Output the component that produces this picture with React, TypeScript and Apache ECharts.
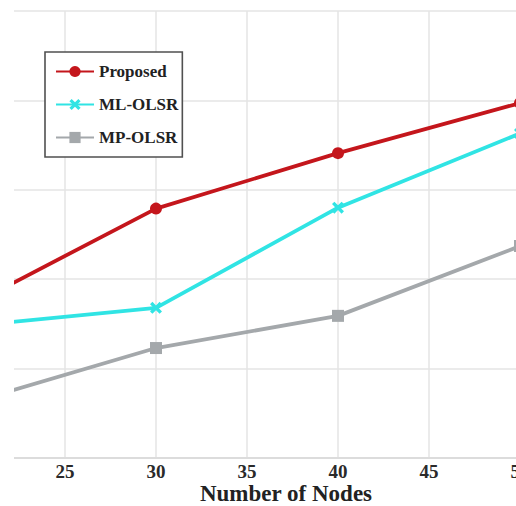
import React, { useEffect, useRef } from "react";
import * as echarts from "echarts";

const nodes = [20, 30, 40, 50];
const proposed = [1.73, 2.79, 3.41, 3.97];
const mlOlsr = [1.48, 1.68, 2.8, 3.63];
const mpOlsr = [0.63, 1.23, 1.59, 2.37];
const seriesNames = ["Proposed", "ML-OLSR", "MP-OLSR"];
const xTitle = "Number of Nodes";

const serif = "'Liberation Serif', 'Times New Roman', serif";
const xShape =
  "path://M0,2 L2,0 L5,3 L8,0 L10,2 L7,5 L10,8 L8,10 L5,7 L2,10 L0,8 L3,5 Z";

export default function App() {
  const ref = useRef<HTMLDivElement>(null);
  useEffect(() => {
    if (!ref.current) return;
    const chart = echarts.init(ref.current, undefined, { renderer: "svg" });
    const pair = (vals: number[]) => nodes.map((n, i) => [n, vals[i]]);
    chart.setOption({
      animation: false,
      backgroundColor: "#ffffff",
      grid: {
        left: -26,
        right: -4,
        top: 11,
        bottom: 48,
        containLabel: false,
        outerBoundsMode: "none",
      },
      xAxis: {
        type: "value",
        min: 20,
        max: 50,
        interval: 5,
        axisLine: { show: true, lineStyle: { color: "#dcdcdc", width: 2 } },
        axisTick: { show: false },
        axisLabel: {
          show: true,
          showMinLabel: false,
          margin: 4,
          fontFamily: serif,
          fontWeight: "bold",
          fontSize: 19,
          color: "#2a2a2a",
        },
        splitLine: { show: true, lineStyle: { color: "#e4e4e4", width: 1.5 } },
      },
      yAxis: {
        type: "value",
        min: 0,
        max: 5,
        interval: 1,
        axisLine: { show: false },
        axisTick: { show: false },
        axisLabel: { show: false },
        splitLine: { show: true, lineStyle: { color: "#e4e4e4", width: 1.5 } },
      },
      legend: {
        orient: "vertical",
        left: 45,
        top: 52,
        padding: [11, 4, 11, 10],
        itemWidth: 38,
        itemHeight: 14,
        itemGap: 16,
        borderColor: "#505050",
        borderWidth: 1.6,
        backgroundColor: "#ffffff",
        data: seriesNames,
        textStyle: {
          fontFamily: serif,
          fontWeight: "bold",
          fontSize: 17,
          color: "#222222",
        },
      },
      series: [
        {
          name: seriesNames[0],
          type: "line",
          data: pair(proposed),
          symbol: "circle",
          symbolSize: 12,
          lineStyle: { color: "#c4161c", width: 3.8 },
          itemStyle: { color: "#c4161c" },
        },
        {
          name: seriesNames[1],
          type: "line",
          data: pair(mlOlsr),
          symbol: xShape,
          symbolSize: 12,
          lineStyle: { color: "#30e4e4", width: 3.8 },
          itemStyle: { color: "#30e4e4" },
        },
        {
          name: seriesNames[2],
          type: "line",
          data: pair(mpOlsr),
          symbol: "rect",
          symbolSize: 12,
          lineStyle: { color: "#a4a8ab", width: 3.8 },
          itemStyle: { color: "#a4a8ab" },
        },
      ],
      graphic: [
        {
          type: "rect",
          z: 100,
          shape: { x: 0, y: 0, width: 14, height: 506 },
          style: { fill: "#ffffff" },
        },
        {
          type: "text",
          z: 100,
          x: 286,
          y: 493,
          style: {
            text: xTitle,
            fontFamily: serif,
            fontWeight: "bold",
            fontSize: 23,
            fill: "#222222",
            align: "center",
            verticalAlign: "middle",
          },
        },
      ],
    });
    return () => chart.dispose();
  }, []);
  return (
    <div
      ref={ref}
      style={{ position: "fixed", left: 0, top: 0, width: 516, height: 506 }}
    />
  );
}
